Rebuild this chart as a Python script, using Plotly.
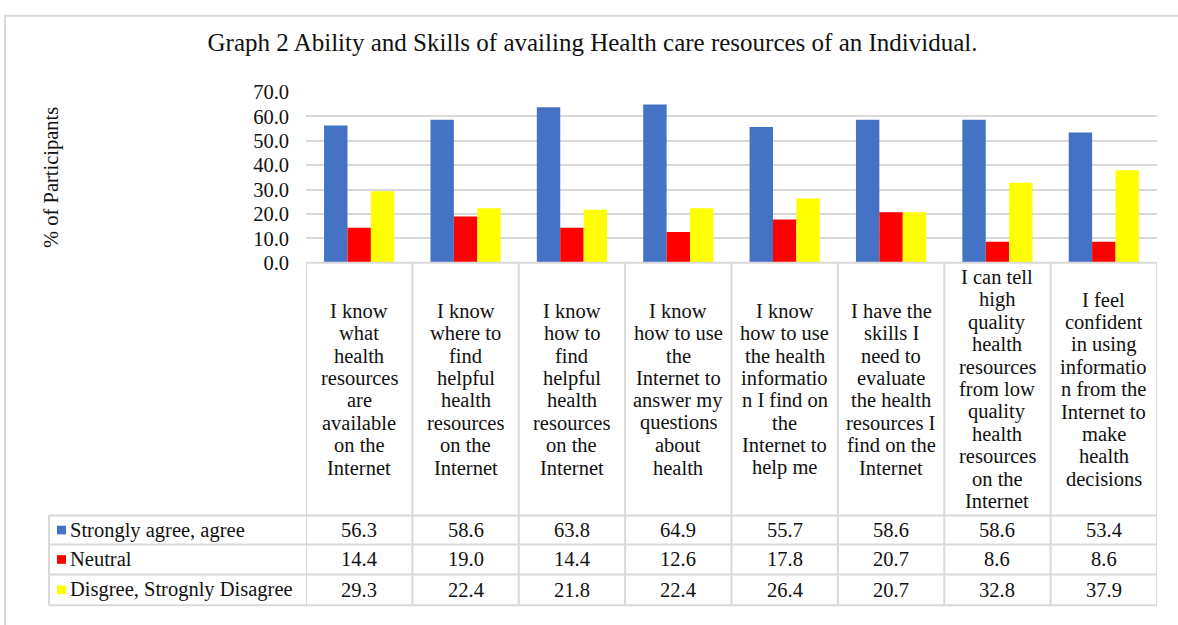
import plotly.graph_objects as go

# chart data
categories = [
    "I know<br>what<br>health<br>resources<br>are<br>available<br>on the<br>Internet",
    "I know<br>where to<br>find<br>helpful<br>health<br>resources<br>on the<br>Internet",
    "I know<br>how to<br>find<br>helpful<br>health<br>resources<br>on the<br>Internet",
    "I know<br>how to use<br>the<br>Internet to<br>answer my<br>questions<br>about<br>health",
    "I know<br>how to use<br>the health<br>informatio<br>n I find on<br>the<br>Internet to<br>help me",
    "I have the<br>skills I<br>need to<br>evaluate<br>the health<br>resources I<br>find on the<br>Internet",
    "I can tell<br>high<br>quality<br>health<br>resources<br>from low<br>quality<br>health<br>resources<br>on the<br>Internet",
    "I feel<br>confident<br>in using<br>informatio<br>n from the<br>Internet to<br>make<br>health<br>decisions",
]
series_names = ["Strongly agree, agree", "Neutral", "Disgree, Strognly Disagree"]
agree = [56.3, 58.6, 63.8, 64.9, 55.7, 58.6, 58.6, 53.4]
neutral = [14.4, 19.0, 14.4, 12.6, 17.8, 20.7, 8.6, 8.6]
disagree = [29.3, 22.4, 21.8, 22.4, 26.4, 20.7, 32.8, 37.9]
y_ticks = [0, 10, 20, 30, 40, 50, 60, 70]

COLORS = ["#4472C4", "#FF0000", "#FFFF00"]
GRID = "#D9D9D9"
FONT = "Liberation Serif"
TXT = "#111111"
FS = 20.5
W, H = 1178, 625


def px_x(v):
    return v / W


def px_y(v):
    return 1 - v / H


idx = list(range(len(categories)))
fig = go.Figure()
for name, vals, col in zip(series_names, [agree, neutral, disagree], COLORS):
    fig.add_bar(x=idx, y=vals, name=name, marker=dict(color=col, line=dict(width=0)))

fig.update_layout(
    width=W, height=H,
    margin=dict(l=0, r=0, t=0, b=0),
    paper_bgcolor="white", plot_bgcolor="white",
    font=dict(family=FONT, color=TXT, size=FS),
    barmode="group", bargap=0.34, bargroupgap=0,
    showlegend=False,
    title=dict(text="Graph 2 Ability and Skills of availing Health care resources of an Individual.",
               x=0.503, xanchor="center", y=px_y(42), yanchor="middle",
               font=dict(family=FONT, size=25, color=TXT)),
)
fig.update_xaxes(domain=[px_x(306), px_x(1157)], range=[-0.5, len(categories) - 0.5],
                 showticklabels=False, showgrid=False, zeroline=False, showline=False)
fig.update_yaxes(domain=[px_y(261), px_y(84)], range=[0, 70], tickvals=y_ticks,
                 tickformat=".1f", gridcolor=GRID, gridwidth=2, zeroline=False,
                 showline=False, ticks="", ticklabelstandoff=16,
                 tickfont=dict(family=FONT, size=FS, color=TXT))

# y axis title
fig.add_annotation(text="% of Participants", xref="paper", yref="paper",
                   x=px_x(52), y=px_y(173), xanchor="center", yanchor="middle",
                   textangle=-90, showarrow=False,
                   font=dict(family=FONT, size=FS, color=TXT))

# outer chart border
fig.add_shape(type="rect", xref="paper", yref="paper", x0=px_x(5), x1=px_x(1190),
              y0=px_y(640), y1=px_y(5), line=dict(color=GRID, width=2))

# data table
line = dict(color=GRID, width=2)
row_y = [523, 553, 584, 616]
top = 261
for i in range(len(categories) + 1):
    fig.add_shape(type="line", xref="x", yref="paper", x0=i - 0.5, x1=i - 0.5,
                  y0=px_y(row_y[-1]), y1=px_y(top), line=line)
fig.add_shape(type="line", xref="paper", yref="paper", x0=px_x(306), x1=px_x(1157),
              y0=px_y(top), y1=px_y(top), line=line)
fig.add_shape(type="line", xref="paper", yref="paper", x0=px_x(49), x1=px_x(49),
              y0=px_y(row_y[-1]), y1=px_y(row_y[0]), line=line)
for ry in row_y:
    fig.add_shape(type="line", xref="paper", yref="paper", x0=px_x(49), x1=px_x(1157),
                  y0=px_y(ry), y1=px_y(ry), line=line)

# category labels, one annotation per line for Excel-like tight line spacing
LINE_H = 23.2
for i, cat in enumerate(categories):
    parts = cat.split("<br>")
    n = len(parts)
    for k, part in enumerate(parts):
        yc = 392 + (k - (n - 1) / 2) * LINE_H
        fig.add_annotation(text=part, x=i, xref="x", yref="paper", y=px_y(yc),
                           xanchor="center", yanchor="middle", showarrow=False,
                           font=dict(family=FONT, size=FS, color=TXT))

for r, (name, vals, col) in enumerate(zip(series_names, [agree, neutral, disagree], COLORS)):
    yc = (row_y[r] + row_y[r + 1]) / 2
    fig.add_shape(type="rect", xref="paper", yref="paper", x0=px_x(57), x1=px_x(66),
                  y0=px_y(yc + 4.5), y1=px_y(yc - 4.5), fillcolor=col, line=dict(width=0))
    fig.add_annotation(text=name, xref="paper", yref="paper", x=px_x(68), y=px_y(yc),
                       xanchor="left", yanchor="middle", showarrow=False,
                       font=dict(family=FONT, size=FS, color=TXT))
    for i, v in enumerate(vals):
        fig.add_annotation(text=f"{v:.1f}", x=i, xref="x", yref="paper", y=px_y(yc),
                           xanchor="center", yanchor="middle", showarrow=False,
                           font=dict(family=FONT, size=FS, color=TXT))

fig.write_html("out.html", config={"displayModeBar": False},
               post_script="document.body.style.margin='0';document.body.style.overflow='hidden';")
